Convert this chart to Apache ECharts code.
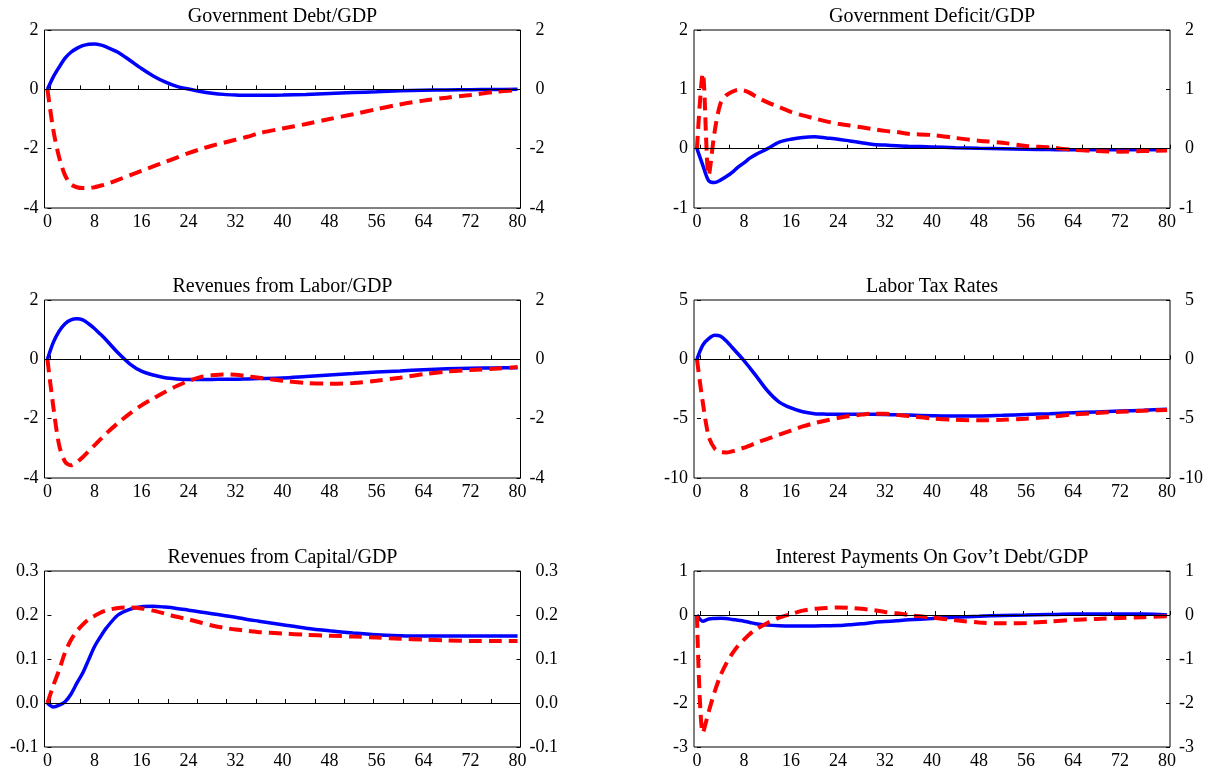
<!DOCTYPE html>
<html>
<head>
<meta charset="utf-8">
<script src="https://cdn.jsdelivr.net/npm/echarts@6/dist/echarts.min.js"></script>
<style>
  html, body { margin: 0; padding: 0; background: #fff; }
  #chart { width: 1207px; height: 770px; }
</style>
</head>
<body>
<div id="chart"></div>
<script>
// Quarters after the shock
const quarters = [0, 1, 2, 3, 4, 5, 6, 7, 8, 9, 10,
  12, 14, 16, 18, 20, 22, 24, 26, 28, 30, 32, 34, 36,
  40, 44, 48, 52, 56, 60, 64, 68, 72, 76, 80];

// Government Debt/GDP
const debtBlue = [0, 0.42, 0.75, 1.05, 1.25, 1.38, 1.47, 1.52, 1.53, 1.5, 1.43,
  1.25, 0.98, 0.7, 0.45, 0.25, 0.1, 0.01, -0.07, -0.13, -0.17, -0.19, -0.2, -0.2,
  -0.19, -0.17, -0.14, -0.11, -0.08, -0.05, -0.03, -0.02, -0.01, -0.005, 0];
const debtRed = [0, -1.37, -2.3, -2.9, -3.2, -3.3, -3.33, -3.33, -3.3, -3.25, -3.2,
  -3.05, -2.9, -2.75, -2.6, -2.45, -2.3, -2.15, -2.02, -1.9, -1.8, -1.7, -1.6, -1.48,
  -1.32, -1.17, -1.0, -0.84, -0.67, -0.51, -0.38, -0.28, -0.19, -0.09, -0.02];

// Government Deficit/GDP
const deficitBlue = [0, -0.28, -0.54, -0.57, -0.53, -0.47, -0.4, -0.31, -0.24, -0.16, -0.1,
  0.0, 0.11, 0.16, 0.19, 0.2, 0.18, 0.16, 0.13, 0.1, 0.07, 0.06, 0.05, 0.04,
  0.03, 0.015, 0.005, 0, -0.01, -0.015, -0.02, -0.02, -0.02, -0.02, -0.02];
const deficitRed = [0, 1.27, -0.45, 0.28, 0.76, 0.9, 0.96, 0.99, 0.98, 0.94, 0.88,
  0.78, 0.7, 0.62, 0.56, 0.51, 0.46, 0.42, 0.39, 0.36, 0.33, 0.3, 0.28, 0.25,
  0.23, 0.18, 0.135, 0.1, 0.045, 0.02, -0.02, -0.04, -0.05, -0.04, -0.03];

// Revenues from Labor/GDP
const laborRevBlue = [0, 0.57, 0.95, 1.2, 1.33, 1.37, 1.33, 1.2, 1.04, 0.85, 0.65,
  0.22, -0.15, -0.4, -0.53, -0.62, -0.66, -0.68, -0.68, -0.68, -0.67, -0.67, -0.66, -0.65,
  -0.63, -0.58, -0.53, -0.48, -0.43, -0.39, -0.35, -0.32, -0.3, -0.29, -0.28];
const laborRevRed = [0, -1.6, -2.9, -3.45, -3.57, -3.47, -3.3, -3.1, -2.9, -2.7, -2.5,
  -2.15, -1.83, -1.55, -1.32, -1.1, -0.9, -0.73, -0.6, -0.54, -0.51, -0.52, -0.57, -0.62,
  -0.72, -0.8, -0.82, -0.8, -0.72, -0.62, -0.5, -0.41, -0.36, -0.32, -0.26];

// Labor Tax Rates
const taxBlue = [0, 1.2, 1.74, 2.02, 1.95, 1.55, 1.0, 0.45, -0.1, -0.72, -1.35,
  -2.65, -3.6, -4.1, -4.42, -4.58, -4.62, -4.63, -4.63, -4.63, -4.63, -4.65, -4.68, -4.7,
  -4.75, -4.78, -4.78, -4.72, -4.65, -4.58, -4.5, -4.43, -4.36, -4.29, -4.21];
const taxRed = [0, -3.65, -6.5, -7.5, -7.82, -7.85, -7.75, -7.6, -7.45, -7.28, -7.05,
  -6.7, -6.35, -6.0, -5.65, -5.38, -5.15, -4.95, -4.78, -4.66, -4.58, -4.58, -4.68, -4.78,
  -4.98, -5.1, -5.14, -5.1, -5.0, -4.85, -4.65, -4.52, -4.42, -4.33, -4.26];

// Revenues from Capital/GDP
const capRevBlue = [0, -0.009, -0.005, 0.003, 0.02, 0.045, 0.068, 0.098, 0.128, 0.15, 0.17,
  0.2, 0.213, 0.219, 0.22, 0.218, 0.215, 0.211, 0.207, 0.203, 0.199, 0.195, 0.19, 0.186,
  0.178, 0.17, 0.164, 0.159, 0.155, 0.153, 0.152, 0.152, 0.152, 0.152, 0.152];
const capRevRed = [0, 0.04, 0.075, 0.115, 0.143, 0.163, 0.178, 0.19, 0.198, 0.205, 0.21,
  0.216, 0.217, 0.215, 0.21, 0.203, 0.196, 0.19, 0.183, 0.176, 0.171, 0.167, 0.164, 0.161,
  0.158, 0.155, 0.153, 0.151, 0.149, 0.146, 0.144, 0.142, 0.141, 0.141, 0.141];

// Interest Payments On Gov't Debt/GDP
const interestBlue = [0, -0.14, -0.09, -0.08, -0.075, -0.08, -0.1, -0.12, -0.14, -0.17, -0.2,
  -0.23, -0.245, -0.25, -0.25, -0.25, -0.245, -0.24, -0.22, -0.2, -0.17, -0.15, -0.13, -0.11,
  -0.08, -0.05, -0.03, -0.01, 0.0, 0.01, 0.02, 0.02, 0.02, 0.02, 0.0];
const interestRed = [0, -2.68, -2.2, -1.75, -1.38, -1.1, -0.88, -0.7, -0.56, -0.43, -0.33,
  -0.18, -0.06, 0.02, 0.1, 0.14, 0.16, 0.17, 0.16, 0.14, 0.11, 0.07, 0.04, 0.0,
  -0.06, -0.12, -0.17, -0.19, -0.18, -0.15, -0.11, -0.09, -0.07, -0.05, -0.03];

const panelTitles = [
  'Government Debt/GDP', 'Government Deficit/GDP',
  'Revenues from Labor/GDP', 'Labor Tax Rates',
  'Revenues from Capital/GDP', 'Interest Payments On Gov\u2019t Debt/GDP'
];
const blueSeries = [debtBlue, deficitBlue, laborRevBlue, taxBlue, capRevBlue, interestBlue];
const redSeries = [debtRed, deficitRed, laborRevRed, taxRed, capRevRed, interestRed];

// Vertical scale of each panel
const yMin = [-4, -1, -4, -10, -0.1, -3];
const yMax = [2, 2, 2, 5, 0.3, 1];
const yStep = [2, 1, 2, 5, 0.1, 1];
const yDecimals = [0, 0, 0, 0, 1, 0];

// Horizontal axis labels
const xLabelValues = [0, 8, 16, 24, 32, 40, 48, 56, 64, 72, 80];

// ---- layout ----
const FONT = '"Liberation Serif", "Times New Roman", serif';
const TICK_FONT = 18;
const TITLE_FONT = 20;
const colLeft = [44.5, 694];
const plotWidth = 476;
const rowTop = [30, 300, 571];
const plotHeight = [178, 178, 177];

// minor tick marks along the bottom edge
const xTickValues = [];
for (let v = 0.5; v <= 80.5; v += 5) xTickValues.push(v);

const grids = [], xAxes = [], yAxes = [], series = [], graphics = [];

panelTitles.forEach((title, i) => {
  const col = i % 2, row = Math.floor(i / 2);
  const left = colLeft[col], top = rowTop[row], h = plotHeight[row];
  grids.push({
    left: left, top: top, width: plotWidth, height: h,
    show: true, borderColor: '#000', borderWidth: 1, backgroundColor: 'transparent',
    containLabel: false
  });
  xAxes.push({
    gridIndex: i, type: 'value', min: -0.5, max: 80.5,
    axisLine: { show: false },
    axisTick: { show: true, inside: true, length: 4, customValues: xTickValues,
      lineStyle: { color: '#000', width: 1 } },
    axisLabel: { customValues: xLabelValues, margin: 5, color: '#000',
      fontFamily: FONT, fontSize: TICK_FONT },
    splitLine: { show: false }
  });
  const dec = yDecimals[i];
  const fmt = (v) => {
    if (Math.abs(v) < 1e-9) v = 0;
    return v.toFixed(dec);
  };
  const yBase = {
    gridIndex: i, type: 'value', min: yMin[i], max: yMax[i], interval: yStep[i],
    axisLine: { show: false },
    axisTick: { show: true, inside: true, length: 4, lineStyle: { color: '#000', width: 1 } },
    splitLine: { show: false }
  };
  yAxes.push(Object.assign({}, yBase, {
    position: 'left',
    axisLabel: { margin: 6, color: '#000', fontFamily: FONT, fontSize: TICK_FONT,
      showMinLabel: true, showMaxLabel: true, formatter: fmt }
  }));
  yAxes.push(Object.assign({}, yBase, {
    position: 'right',
    axisLabel: {
      margin: 9, align: 'left', color: '#000', fontFamily: FONT, fontSize: TICK_FONT,
      showMinLabel: true, showMaxLabel: true,
      // keep the digits in one column; the minus sign hangs to the left
      formatter: (v) => {
        const s = fmt(v);
        return s.charAt(0) === '-' ? s : '{h|-}' + s;
      },
      rich: { h: { color: 'rgba(0,0,0,0)', fontFamily: FONT, fontSize: TICK_FONT } }
    }
  }));
  // zero reference line
  series.push({
    type: 'line', xAxisIndex: i, yAxisIndex: 2 * i, data: [], z: 1, silent: true,
    markLine: {
      silent: true, symbol: ['none', 'none'], label: { show: false },
      lineStyle: { color: '#000', width: 1, type: 'solid' },
      emphasis: { disabled: true },
      data: [{ yAxis: 0 }]
    }
  });
  series.push({
    type: 'line', xAxisIndex: i, yAxisIndex: 2 * i, z: 3,
    data: quarters.map((q, k) => [q, blueSeries[i][k]]),
    symbol: 'none', smooth: 0.3,
    lineStyle: { color: '#0000ff', width: 3.5 }
  });
  series.push({
    type: 'line', xAxisIndex: i, yAxisIndex: 2 * i, z: 4,
    data: quarters.map((q, k) => [q, redSeries[i][k]]),
    symbol: 'none', smooth: 0.3,
    lineStyle: { color: '#ff0000', width: 4, type: [13, 7] }
  });
  graphics.push({
    type: 'text', x: left + plotWidth / 2, y: top - 13,
    style: { text: title, fill: '#000', font: TITLE_FONT + 'px ' + FONT,
      textAlign: 'center', textVerticalAlign: 'middle' }
  });
});

const chart = echarts.init(document.getElementById('chart'));
chart.setOption({
  animation: false,
  backgroundColor: '#fff',
  grid: grids,
  xAxis: xAxes,
  yAxis: yAxes,
  series: series,
  graphic: graphics
});
</script>
</body>
</html>
